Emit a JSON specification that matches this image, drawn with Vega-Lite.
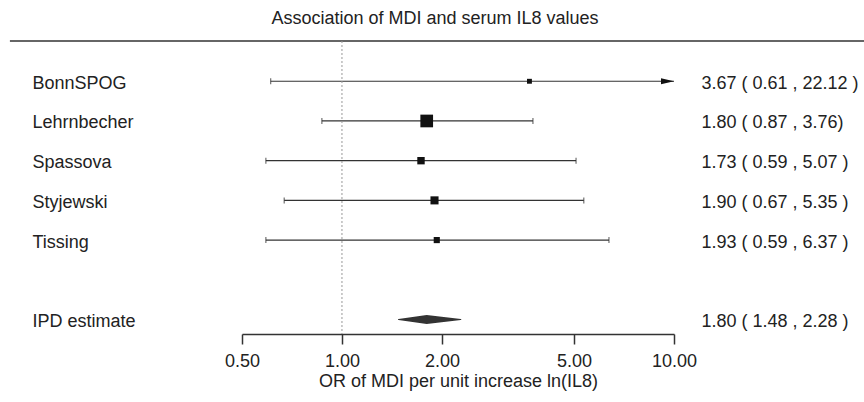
{
  "$schema": "https://vega.github.io/schema/vega-lite/v6.json",
  "autosize": "none",
  "width": 432,
  "height": 293,
  "padding": {"left": 242, "top": 41, "right": 190, "bottom": 68},
  "background": "white",
  "config": {
    "view": {"stroke": null},
    "font": "Liberation Sans",
    "axis": {"labelFont": "Liberation Sans", "titleFont": "Liberation Sans", "grid": false}
  },
  "title": {
    "text": "Association of MDI and serum IL8 values",
    "font": "Liberation Sans",
    "fontSize": 18,
    "fontWeight": "normal",
    "color": "#222222",
    "anchor": "middle",
    "dx": -23,
    "offset": -2,
    "baseline": "alphabetic"
  },
  "data": {
    "values": [
      {"study": "BonnSPOG", "type": "study", "or": 3.67, "lo": 0.61, "hi": 22.12, "weight": 7, "ci": "3.67 ( 0.61 , 22.12 )"},
      {"study": "Lehrnbecher", "type": "study", "or": 1.80, "lo": 0.87, "hi": 3.76, "weight": 47, "ci": "1.80 ( 0.87 , 3.76)"},
      {"study": "Spassova", "type": "study", "or": 1.73, "lo": 0.59, "hi": 5.07, "weight": 16, "ci": "1.73 ( 0.59 , 5.07 )"},
      {"study": "Styjewski", "type": "study", "or": 1.90, "lo": 0.67, "hi": 5.35, "weight": 19, "ci": "1.90 ( 0.67 , 5.35 )"},
      {"study": "Tissing", "type": "study", "or": 1.93, "lo": 0.59, "hi": 6.37, "weight": 11, "ci": "1.93 ( 0.59 , 6.37 )"},
      {"study": "IPD estimate", "type": "pooled", "or": 1.80, "lo": 1.48, "hi": 2.28, "weight": null, "ci": "1.80 ( 1.48 , 2.28 )"}
    ]
  },
  "layer": [
    {
      "layer": [
        {
          "transform": [{"filter": "datum.type === 'study'"}],
          "mark": {"type": "rule", "clip": true, "color": "#333333", "strokeWidth": 1.2},
          "encoding": {
            "x": {
              "field": "lo",
              "type": "quantitative",
              "scale": {"type": "log", "domain": [0.5, 10], "nice": false, "zero": false},
              "axis": {
                "values": [0.5, 1, 2, 5, 10],
                "format": ".2f",
                "title": "OR of MDI per unit increase ln(IL8)",
                "titleFontSize": 18,
                "titleFontWeight": "normal",
                "titleColor": "#222222",
                "titlePadding": 2,
                "labelFontSize": 18,
                "labelColor": "#222222",
                "labelPadding": 8,
                "labelFlush": false,
                "labelOverlap": false,
                "tickSize": 10,
                "tickColor": "#333333",
                "tickWidth": 1.5,
                "domainColor": "#333333",
                "domainWidth": 1.5
              }
            },
            "x2": {"field": "hi"},
            "y": {
              "field": "study",
              "type": "nominal",
              "sort": null,
              "scale": {
                "type": "point",
                "domain": ["BonnSPOG", "Lehrnbecher", "Spassova", "Styjewski", "Tissing", "", "IPD estimate"],
                "padding": 0.69,
                "align": 0.735
              },
              "axis": {
                "orient": "left",
                "title": null,
                "domain": false,
                "ticks": false,
                "tickSize": 0,
                "labelAlign": "left",
                "labelPadding": 210,
                "labelOffset": 2,
                "labelFontSize": 18,
                "labelColor": "#222222",
                "labelLimit": 300
              }
            }
          }
        },
        {
          "data": {"values": [{"edge": "top"}]},
          "mark": {"type": "rule", "clip": false, "color": "#333333", "strokeWidth": 1.4},
          "encoding": {
            "x": {"datum": 0.1, "type": "quantitative"},
            "x2": {"datum": 40},
            "y": {"value": 0}
          }
        },
        {
          "data": {"values": [{"ref": 1}]},
          "mark": {"type": "rule", "color": "#999999", "strokeWidth": 1, "strokeDash": [2, 2]},
          "encoding": {
            "x": {"field": "ref", "type": "quantitative"}
          }
        },
        {
          "transform": [{"filter": "datum.type === 'study'"}],
          "mark": {"type": "tick", "clip": true, "color": "#333333", "thickness": 1.2, "size": 6, "orient": "vertical"},
          "encoding": {
            "x": {"field": "lo", "type": "quantitative"},
            "y": {"field": "study", "type": "nominal"}
          }
        },
        {
          "transform": [{"filter": "datum.type === 'study'"}],
          "mark": {"type": "tick", "clip": true, "color": "#333333", "thickness": 1.2, "size": 6, "orient": "vertical"},
          "encoding": {
            "x": {"field": "hi", "type": "quantitative"},
            "y": {"field": "study", "type": "nominal"}
          }
        },
        {
          "transform": [{"filter": "datum.hi > 10"}],
          "mark": {"type": "point", "shape": "M-2,-0.45L0,0L-2,0.45Z", "filled": true, "opacity": 1, "color": "#111111", "size": 169},
          "encoding": {
            "x": {"datum": 10, "type": "quantitative"},
            "y": {"field": "study", "type": "nominal"}
          }
        },
        {
          "transform": [
            {"filter": "datum.type === 'pooled'"},
            {"fold": ["lo", "or", "hi"], "as": ["bound", "value"]}
          ],
          "mark": {"type": "trail", "color": "#333333"},
          "encoding": {
            "x": {"field": "value", "type": "quantitative"},
            "y": {"field": "study", "type": "nominal"},
            "size": {
              "field": "bound",
              "type": "nominal",
              "scale": {"type": "ordinal", "domain": ["lo", "or", "hi"], "range": [0, 9, 0]},
              "legend": null
            },
            "order": {"field": "value", "type": "quantitative"}
          }
        }
      ]
    },
    {
      "transform": [{"filter": "datum.type === 'study'"}],
      "mark": {"type": "point", "shape": "square", "filled": true, "opacity": 1, "color": "#111111"},
      "encoding": {
        "x": {"field": "or", "type": "quantitative"},
        "y": {
          "field": "ci",
          "type": "nominal",
          "sort": null,
          "scale": {
            "type": "point",
            "domain": ["3.67 ( 0.61 , 22.12 )", "1.80 ( 0.87 , 3.76)", "1.73 ( 0.59 , 5.07 )", "1.90 ( 0.67 , 5.35 )", "1.93 ( 0.59 , 6.37 )", "", "1.80 ( 1.48 , 2.28 )"],
            "padding": 0.69,
            "align": 0.735
          },
          "axis": {
            "orient": "right",
            "title": null,
            "domain": false,
            "ticks": false,
            "tickSize": 0,
            "labelAlign": "left",
            "labelPadding": 27,
            "labelOffset": 2,
            "labelFontSize": 18,
            "labelColor": "#222222",
            "labelLimit": 400
          }
        },
        "size": {
          "field": "weight",
          "type": "quantitative",
          "scale": {"domain": [0, 47], "range": [0, 161], "zero": true},
          "legend": null
        }
      }
    }
  ],
  "resolve": {"scale": {"y": "independent"}}
}
